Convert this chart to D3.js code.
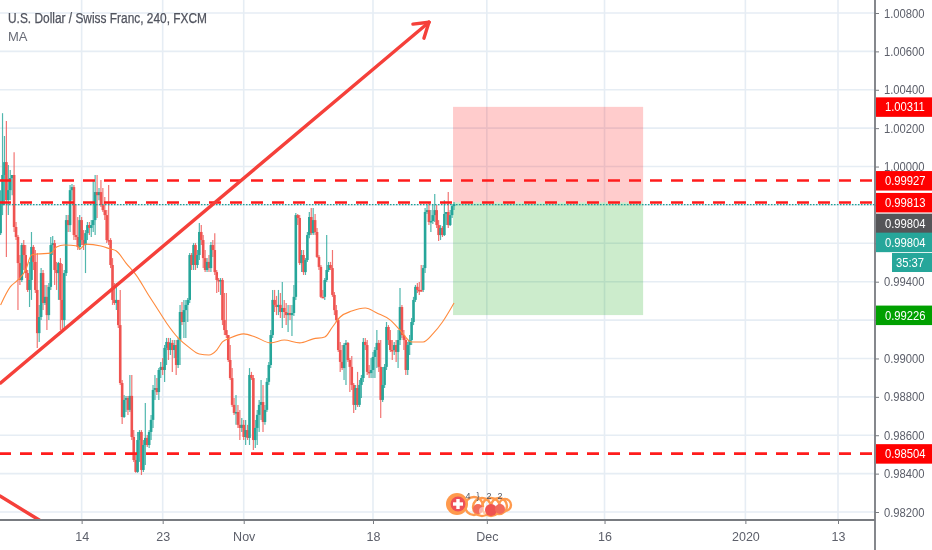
<!DOCTYPE html>
<html><head><meta charset="utf-8">
<script src="https://cdnjs.cloudflare.com/ajax/libs/d3/7.8.5/d3.min.js"></script>
<style>html,body{margin:0;padding:0;background:#fff;overflow:hidden}svg{display:block;filter:blur(.35px)}</style>
</head><body><svg id="c" width="932" height="550"></svg>
<script>
// prices in points (1 point = 0.00001)
const barOpen=[99653,99799,99956,100023,99825,99877,99940,99956,99685,99633,
99497,99409,99591,99539,99445,99357,99409,99581,99503,99357,
99132,99216,99445,99289,99321,99226,99373,99591,99601,99461,
99445,99497,99305,99200,99445,99721,99695,99877,99893,99643,
99633,99581,99721,99617,99591,99653,99695,99680,99695,99721,
99867,99851,99867,99799,99773,99747,99617,99617,99487,99305,
99289,99305,99174,98872,98695,98784,98794,98732,98805,98591,
98471,98409,98575,98617,98419,98549,98586,98549,98617,98680,
98836,98846,98825,98940,98956,98940,99055,99086,99044,99081,
99044,99070,98966,99096,99242,99190,99252,99279,99305,99539,
99487,99591,99487,99539,99659,99617,99523,99461,99503,99471,
99591,99565,99450,99409,99404,99409,99200,99148,99122,98992,
98898,98758,98716,98721,98654,98638,98654,98591,98627,98586,
98914,98898,98575,98638,98706,98758,98773,98669,98732,98878,
98966,99122,99305,99279,99268,99279,99242,99263,99242,99226,
99237,99226,99237,99321,99747,99732,99497,99539,99450,99513,
99643,99737,99653,99721,99659,99529,99477,99321,99321,99409,
99461,99487,99471,99331,99252,99200,99044,98982,98950,99070,
99081,98992,98956,98862,98758,98846,98758,98862,98898,99086,
99070,98930,98924,98940,99008,99044,99081,98956,98784,98862,
98956,99164,99096,99044,99044,99070,99034,99096,99268,99122,
99096,98940,99070,99096,99190,99305,99373,99357,99357,99357,
99471,99763,99773,99711,99716,99747,99773,99695,99643,99680,
99643,99753,99763,99695,99747,99794];
const barHigh=[99877,100278,100159,100237,100008,99982,99956,100075,99711,99643,
99539,99601,99617,99591,99461,99503,99659,99591,99565,99549,
99279,99471,99461,99383,99383,99393,99633,99638,99617,99503,
99503,99523,99492,99461,99747,99747,99904,99909,99904,99799,
99737,99747,99737,99669,99669,99711,99711,99721,99930,99956,
99956,99888,99930,99888,99841,99773,99904,99627,99523,99393,
99393,99305,99357,98888,98810,98805,98805,98914,98914,98627,
98497,98617,98627,98627,98575,98768,98601,98627,98706,98862,
98914,98898,98950,98982,99002,99070,99107,99107,99107,99096,
99096,99096,99107,99279,99294,99305,99305,99315,99549,99549,
99601,99601,99565,99706,99695,99643,99565,99523,99539,99607,
99617,99653,99461,99419,99419,99419,99341,99341,99122,99070,
98950,98794,98810,98758,98732,98690,98680,98680,98654,98950,
98930,98914,98680,98732,98784,98888,98862,98758,98898,98982,
99148,99357,99357,99326,99357,99341,99398,99305,99289,99279,
99279,99279,99383,99758,99753,99747,99565,99565,99523,99659,
99763,99784,99784,99753,99680,99539,99487,99357,99419,99643,
99503,99503,99565,99346,99279,99211,99086,99070,99081,99096,
99086,99002,99013,98872,98862,98930,98888,98914,99107,99107,
99096,98966,99002,99034,99060,99148,99096,99096,98956,98971,
99190,99174,99148,99096,99086,99096,99148,99367,99279,99148,
99107,99086,99122,99211,99321,99383,99393,99398,99487,99487,
99784,99799,99810,99773,99799,99857,99799,99721,99695,99690,
99825,99763,99867,99773,99804,99815];
const barLow=[99643,99747,99799,99529,99747,99825,99851,99659,99617,99252,
99383,99398,99461,99419,99346,99268,99305,99461,99341,99055,
99086,99200,99252,99279,99148,99200,99357,99539,99383,99357,
99305,99148,99148,99148,99430,99659,99659,99825,99617,99617,
99565,99565,99591,99565,99445,99617,99643,99633,99659,99643,
99732,99825,99789,99763,99721,99601,99591,99471,99279,99279,
99252,99159,98862,98659,98690,98721,98706,98721,98575,98461,
98404,98404,98461,98393,98409,98445,98539,98534,98575,98638,
98784,98810,98784,98898,98914,98878,98966,98992,99018,98930,
99002,98914,98950,98966,99174,99107,99107,99190,99289,99461,
99461,99461,99471,99513,99591,99471,99450,99450,99450,99450,
99529,99435,99341,99346,99331,99174,99122,99107,98982,98888,
98747,98706,98654,98638,98575,98617,98575,98549,98575,98549,
98888,98523,98534,98549,98617,98680,98617,98654,98721,98862,
98950,99107,99242,99226,99226,99211,99159,99211,99174,99138,
99200,99117,99221,99305,99695,99487,99450,99435,99435,99503,
99627,99643,99643,99643,99523,99461,99315,99315,99305,99398,
99450,99461,99321,99226,99190,99034,98930,98940,98888,98862,
98982,98825,98836,98716,98732,98747,98747,98794,98878,99044,
98914,98898,98898,98898,98898,98950,98930,98690,98773,98846,
98940,99070,99034,98992,99018,98982,98950,99070,99107,99044,
98914,98914,99018,99070,99174,99294,99341,99331,99346,99346,
99445,99753,99695,99659,99700,99711,99680,99612,99617,99633,
99638,99695,99680,99690,99732,99773];
const barClose=[99799,99956,100023,99825,99877,99940,99956,99685,99633,99497,
99409,99591,99539,99445,99357,99409,99581,99503,99357,99132,
99216,99445,99289,99321,99226,99373,99591,99601,99461,99445,
99497,99305,99200,99445,99721,99695,99877,99893,99643,99633,
99581,99721,99617,99591,99653,99695,99680,99695,99721,99867,
99851,99867,99799,99773,99747,99617,99617,99487,99305,99289,
99305,99174,98872,98695,98784,98794,98732,98805,98591,98471,
98409,98575,98617,98419,98549,98586,98549,98617,98680,98836,
98846,98825,98940,98956,98940,99055,99086,99044,99081,99044,
99070,98966,99096,99242,99190,99252,99279,99305,99539,99487,
99591,99487,99539,99659,99617,99523,99461,99503,99471,99591,
99565,99450,99409,99404,99409,99200,99148,99122,98992,98898,
98758,98716,98721,98654,98638,98654,98591,98627,98586,98914,
98898,98575,98638,98706,98758,98773,98669,98732,98878,98966,
99122,99305,99279,99268,99279,99242,99263,99242,99226,99237,
99226,99237,99321,99747,99732,99497,99539,99450,99513,99643,
99737,99653,99721,99659,99529,99477,99321,99321,99409,99461,
99487,99471,99331,99252,99200,99044,98982,98950,99070,99081,
98992,98956,98862,98758,98846,98758,98862,98898,99086,99070,
98930,98924,98940,99008,99044,99081,98956,98784,98862,98956,
99164,99096,99044,99044,99070,99034,99096,99268,99122,99096,
98940,99070,99096,99190,99305,99373,99357,99357,99357,99471,
99763,99773,99711,99716,99747,99773,99695,99643,99680,99643,
99753,99763,99695,99747,99794,99804];
const maBar=[0,5,9,13,16,19,26,29,33,40,41,44,52,57,60,65,71,76,81,86,92,98,103,108,112,115,119,126,132,140,147,155,162,168,172,176,182,189,195,202,207,213,219,224,229,235];
const maValue=[99279,99373,99409,99461,99539,99544,99549,99581,99591,99586,99570,99596,99586,99570,99560,99497,99424,99341,99263,99185,99107,99055,99023,99018,99044,99086,99107,99128,99112,99081,99096,99081,99102,99112,99164,99216,99247,99263,99237,99200,99148,99086,99086,99128,99190,99289];
const timeTickBars=[42,84,126,193,252,313,386,434];
const timeTickLabels=["14","23","Nov","18","Dec","16","2020","13"];
const priceTicks=[98200,98400,98600,98800,99000,99200,99400,99600,99800,100000,100200,100400,100600,100800];
const pricesBehindTags=[99200,99600,99800];
const dashedLevels=[99927,99813,98504];
const lastPrice=99804;
const positionBars=[235,333];
const stopLevel=100311,entryLevel=99813,targetLevel=99226;
const trendBars=[0,222],trendPrices=[98872,100752];
const arrowBarbBars=[213.7,219.4],arrowBarbPrices=[100742,100669];
const lowerBars=[-0.3,20],lowerPrices=[98283,98158];
const priceTags=[
 {t:"1.00311",v:100311,c:"#ff0000"},
 {t:"0.99927",v:99927,c:"#ff0000"},
 {t:"0.99813",v:99813,c:"#ff0000"},
 {t:"0.99804",v:99804,c:"#555558",dy:19},
 {t:"0.99804",v:99804,c:"#26a69a",dy:38},
 {t:"0.99226",v:99226,c:"#00a000"},
 {t:"0.98504",v:98504,c:"#ff0000"}];
const countdown="35:37";

const W=932,H=550,axisX=875,axisY=520;
const FONT='"Liberation Sans",Arial,sans-serif';
const x=d3.scaleLinear().domain([0,434]).range([0.6,838]);
const y=d3.scaleLinear().domain([98200,100800]).range([512,13]);
const svg=d3.select("#c");
svg.append("rect").attr("width",W).attr("height",H).attr("fill","#fff");
svg.append("defs").append("clipPath").attr("id","pane").append("rect").attr("width",axisX).attr("height",axisY);
const pane=svg.append("g").attr("clip-path","url(#pane)");

// grid
const gridCol="#e6edf4";
pane.append("g").selectAll("line").data(priceTicks).join("line")
 .attr("x1",0).attr("x2",axisX).attr("y1",d=>y(d)).attr("y2",d=>y(d))
 .attr("stroke",gridCol).attr("stroke-width",1.6);
pane.append("g").selectAll("line").data(timeTickBars).join("line")
 .attr("y1",0).attr("y2",axisY).attr("x1",d=>x(d)).attr("x2",d=>x(d))
 .attr("stroke",gridCol).attr("stroke-width",1.6);

// position tool
const px0=x(positionBars[0]),px1=x(positionBars[1]);
pane.append("rect").attr("x",px0-1).attr("width",px1-px0+1).attr("y",y(stopLevel)).attr("height",y(entryLevel)-y(stopLevel)).attr("fill","#ff0000").attr("opacity",.2);
pane.append("rect").attr("x",px0-1).attr("width",px1-px0+1).attr("y",y(entryLevel)).attr("height",y(targetLevel)-y(entryLevel)).attr("fill","#00a000").attr("opacity",.2);

// candles
const idx=d3.range(barClose.length);
const col=i=>barClose[i]>barOpen[i]?"#26a69a":"#ef5350";
pane.append("g").selectAll("line").data(idx).join("line")
 .attr("x1",i=>x(i)).attr("x2",i=>x(i)).attr("y1",i=>y(barHigh[i])).attr("y2",i=>y(barLow[i]))
 .attr("stroke",col).attr("stroke-width",1.2).attr("opacity",.8);
pane.append("g").selectAll("rect").data(idx).join("rect")
 .attr("x",i=>x(i)-1.3).attr("width",2.6)
 .attr("y",i=>Math.min(y(barOpen[i]),y(barClose[i])))
 .attr("height",i=>Math.max(1.5,Math.abs(y(barOpen[i])-y(barClose[i]))))
 .attr("fill",col);

// MA
pane.append("path").attr("d",d3.line().x((d,i)=>x(maBar[i])).y(d=>y(d)).curve(d3.curveMonotoneX)(maValue))
 .attr("fill","none").attr("stroke","#ff8a3c").attr("stroke-width",1.1);

// dashed levels
pane.append("g").selectAll("line").data(dashedLevels).join("line")
 .attr("x1",0).attr("x2",axisX).attr("y1",d=>y(d)).attr("y2",d=>y(d))
 .attr("stroke","#ff1c1c").attr("stroke-width",2.6).attr("stroke-dasharray","12 9").attr("stroke-dashoffset",1);

// last price
pane.append("line").attr("x1",0).attr("x2",axisX).attr("y1",y(lastPrice)+.5).attr("y2",y(lastPrice)+.5)
 .attr("stroke","#1aa497").attr("stroke-width",1.2).attr("stroke-dasharray","1.5 1.5");

// trend arrow and lower line
const red="#f5403a";
const seg=(a,b,c,d)=>pane.append("line").attr("x1",x(a)).attr("y1",y(b)).attr("x2",x(c)).attr("y2",y(d))
 .attr("stroke",red).attr("stroke-width",3.4).attr("stroke-linecap","round");
seg(trendBars[0],trendPrices[0],trendBars[1],trendPrices[1]);
seg(arrowBarbBars[0],arrowBarbPrices[0],trendBars[1],trendPrices[1]);
seg(arrowBarbBars[1],arrowBarbPrices[1],trendBars[1],trendPrices[1]);
seg(lowerBars[0],lowerPrices[0],lowerBars[1],lowerPrices[1]);

// logo
const logo=svg.append("g");
[[474,506,9],[482,507,9],[491,507,9],[499,506,8],[505,505,6]].forEach(([a,b,r])=>{
 logo.append("circle").attr("cx",a).attr("cy",b).attr("r",r).attr("fill","none").attr("stroke","#ff9a4d").attr("stroke-width",2.4);
});
logo.append("circle").attr("cx",478).attr("cy",509).attr("r",5).attr("fill","#f26a5a");
logo.append("circle").attr("cx",483).attr("cy",511).attr("r",4).attr("fill","#fff").attr("opacity",.5);
logo.append("circle").attr("cx",491).attr("cy",510).attr("r",6).attr("fill","#ef5350");
logo.append("circle").attr("cx",500).attr("cy",509).attr("r",5).attr("fill","#f26a5a");
logo.append("circle").attr("cx",457).attr("cy",504).attr("r",11).attr("fill","#ff9a4d");
logo.append("circle").attr("cx",458).attr("cy",504).attr("r",7.5).attr("fill","#ee4f57");
logo.append("rect").attr("x",456.3).attr("y",499).attr("width",3.4).attr("height",10).attr("fill","#fff");
logo.append("rect").attr("x",453).attr("y",502.3).attr("width",10).attr("height",3.4).attr("fill","#fff");
[["4",468],["}",478],["2",489],["2",500]].forEach(([t,a])=>{
 logo.append("text").attr("x",a).attr("y",499).attr("text-anchor","middle").attr("font-family",FONT).attr("font-size",9).attr("fill","#50535e").text(t);
});

// axes
const axisCol="#787b80",textCol="#5d606b";
const fmt=v=>pricesBehindTags.includes(v)?"":d3.format(".5f")(v/1e5);
const gy=svg.append("g").attr("transform",`translate(${axisX},0)`).call(d3.axisRight(y).tickValues(priceTicks).tickFormat(fmt).tickSize(4).tickPadding(4));
gy.select(".domain").remove();
const gx=svg.append("g").attr("transform",`translate(0,${axisY})`).call(d3.axisBottom(x).tickValues(timeTickBars).tickFormat((d,i)=>timeTickLabels[i]).tickSize(4).tickPadding(8));
gx.select(".domain").remove();
[gy,gx].forEach(g=>{g.selectAll("line").attr("stroke",axisCol);
 g.selectAll("text").attr("font-family",FONT).attr("font-size",12.5).attr("fill",textCol);});
gy.selectAll("text").attr("x",0).attr("transform","translate(9,0) scale(.9,1)");
svg.append("line").attr("x1",0).attr("x2",axisX).attr("y1",axisY).attr("y2",axisY).attr("stroke",axisCol).attr("stroke-width",1.8);
svg.append("line").attr("x1",axisX).attr("x2",axisX).attr("y1",0).attr("y2",H).attr("stroke",axisCol).attr("stroke-width",1.8);

// price tags
const tags=svg.append("g").selectAll("g").data(priceTags).join("g")
 .attr("transform",d=>`translate(${axisX+1},${y(d.v)+(d.dy||0)-9.5})`);
tags.append("rect").attr("width",W-axisX-1).attr("height",19.5).attr("fill",d=>d.c);
tags.append("text").attr("x",0).attr("y",14).attr("font-family",FONT).attr("font-size",12.5).attr("fill","#fff")
 .attr("transform","translate(9,0) scale(.9,1)").text(d=>d.t);
const cd=svg.append("g").attr("transform","translate(892,253)");
cd.append("rect").attr("width",40).attr("height",19).attr("fill","#26a69a");
cd.append("text").attr("x",0).attr("y",14).attr("font-family",FONT).attr("font-size",12.5).attr("fill","#fff")
 .attr("transform","translate(4,0) scale(.9,1)").text(countdown);

// legend
svg.append("text").attr("x",8).attr("y",23).attr("font-family",FONT).attr("font-size",14).attr("fill","#50535e")
 .attr("stroke","#50535e").attr("stroke-width",.25)
 .attr("textLength",199).attr("lengthAdjust","spacingAndGlyphs").text("U.S. Dollar / Swiss Franc, 240, FXCM");
svg.append("text").attr("x",8).attr("y",41).attr("font-family",FONT).attr("font-size",13).attr("fill","#6a6d78").text("MA");
</script></body></html>
